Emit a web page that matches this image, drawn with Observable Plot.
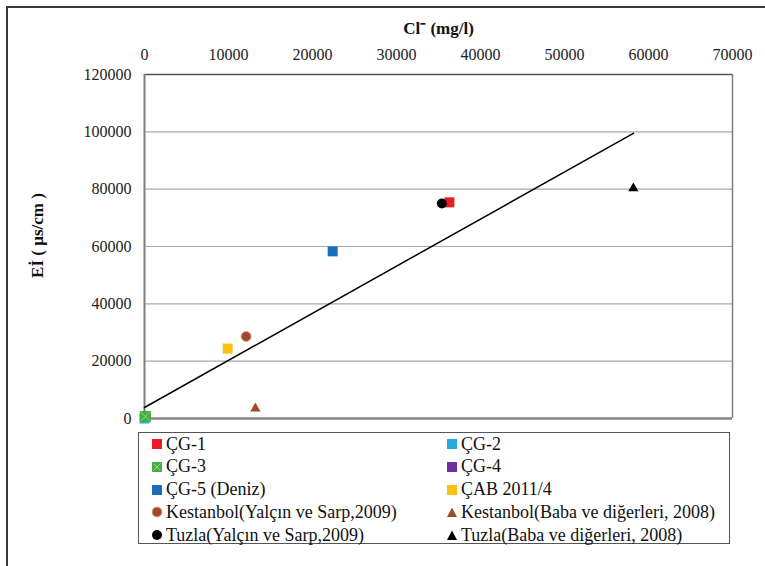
<!DOCTYPE html>
<html>
<head>
<meta charset="utf-8">
<script src="https://cdn.jsdelivr.net/npm/d3@7"></script>
<script src="https://cdn.jsdelivr.net/npm/@observablehq/plot@0.6"></script>
<style>
  html, body { margin: 0; padding: 0; background: #fff; }
  #wrap { position: relative; width: 765px; height: 566px; overflow: hidden; font-family: "Liberation Serif", "Times New Roman", serif; }
  #frame { position: absolute; left: 6px; top: 6px; width: 800px; height: 600px; border-top: 2px solid #3a3a3a; border-left: 2px solid #3a3a3a; }
  #chart { position: absolute; left: 0; top: 0; }
  #chart svg, #chart svg text { font-family: "Liberation Serif", "Times New Roman", serif !important; }
  #legend { position: absolute; left: 138px; top: 432px; width: 592px; height: 112px; border: 1px solid #555; box-sizing: border-box; background: #fff; }
  .item { position: absolute; height: 22px; display: flex; align-items: center; font-size: 18px; color: #111; white-space: nowrap; }
  .item svg { margin-right: 3px; }
</style>
</head>
<body>
<div id="wrap">
  <div id="frame"></div>
  <div id="chart"></div>
  <div id="legend"></div>
</div>
<script>
// ---- data ----
const series = ["ÇG-1", "ÇG-2", "ÇG-3", "ÇG-4", "ÇG-5 (Deniz)", "ÇAB 2011/4",
  "Kestanbol(Yalçın ve Sarp,2009)", "Kestanbol(Baba ve diğerleri, 2008)",
  "Tuzla(Yalçın ve Sarp,2009)", "Tuzla(Baba ve diğerleri, 2008)"];
const chloride = [36300, 0, 100, 100, 22400, 9900, 12100, 13200, 35400, 58200];      // Cl- (mg/l)
const conductivity = [75400, 0, 700, 700, 58300, 24400, 28600, 3500, 75000, 80300]; // EC (µs/cm)
const colors = ["#ed1c24", "#29abe2", "#3db049", "#7030a0", "#1b6fba", "#fdc010",
  "#9e4a2a", "#9e4a22", "#000000", "#000000"];
const symbols = ["square", "square", "square", "square", "square", "square",
  "circle", "triangle", "circle", "triangle"];
const trendX = [0, 58200];
const trendY = [3840, 99480];
const xTicks = [0, 10000, 20000, 30000, 40000, 50000, 60000, 70000];
const yTicks = [0, 20000, 40000, 60000, 80000, 100000, 120000];
const gridY = [20000, 40000, 60000, 80000, 100000];

const FONT = "Liberation Serif, Times New Roman, serif";
const points = series.map((s, i) => ({name: s, x: chloride[i], y: conductivity[i], color: colors[i], symbol: symbols[i]}));
// draw ÇG-4 first so ÇG-2 and ÇG-3 sit on top of it, as in the original
const order = [3, 0, 1, 2, 4, 5, 6, 7, 8, 9];
const drawPoints = order.map(i => points[i]);
const trend = trendX.map((x, i) => ({x, y: trendY[i]}));
const rFor = d => d.name === "ÇG-3" ? 6.2 : d.symbol === "square" ? 5.65 : d.symbol === "circle" ? 5 : 3.8;

const chart = Plot.plot({
  width: 765,
  height: 566,
  marginTop: 74,
  marginBottom: 148,
  marginLeft: 144,
  marginRight: 33,
  style: {fontFamily: FONT, fontSize: "16px", background: "transparent", color: "#222"},
  x: {domain: [0, 70000]},
  y: {domain: [0, 120000]},
  r: {type: "identity"},
  marks: [
    Plot.ruleY(gridY, {stroke: "#a9a9a9", strokeWidth: 1.2}),
    Plot.ruleY([120000], {stroke: "#555", strokeWidth: 1.5}),
    Plot.ruleX([70000], {stroke: "#7f7f7f", strokeWidth: 1.5}),
    Plot.ruleX([0], {stroke: "#7f7f7f", strokeWidth: 2}),
    Plot.ruleY([0], {stroke: "#868686", strokeWidth: 2.5}),
    Plot.line(trend, {x: "x", y: "y", stroke: "#000", strokeWidth: 1.5}),
    Plot.dot(drawPoints, {x: "x", y: "y", fill: d => d.color, symbol: d => d.symbol, r: rFor, sort: null,
      stroke: d => d.name.startsWith("Kestanbol(Yal") ? "#d9a99c" : "none", strokeWidth: 1}),
    Plot.dot(points.filter(d => d.name === "ÇG-3"), {x: "x", y: "y", symbol: "times", r: 4.5, stroke: "#a5d65c", strokeWidth: 1}),
    Plot.axisX({anchor: "top", ticks: xTicks, tickSize: 0, tickPadding: 15, tickFormat: d => String(d), label: null, fontSize: 16, fontFamily: FONT, fill: "#222"}),
    Plot.axisY({anchor: "left", ticks: yTicks, tickSize: 0, tickPadding: 13, tickFormat: d => String(d), label: null, fontSize: 16, fontFamily: FONT, fill: "#222"}),
    Plot.text(["Cl⁻ (mg/l)"], {frameAnchor: "top", dy: -46, lineAnchor: "middle", textAnchor: "middle", fontWeight: "bold", fontSize: 17, fontFamily: FONT, fill: "#111"}),
    Plot.text(["Eİ ( µs/cm )"], {frameAnchor: "left", dx: -107, dy: -11, rotate: -90, textAnchor: "middle", lineAnchor: "middle", fontWeight: "bold", fontSize: 17, fontFamily: FONT, fill: "#111"})
  ]
});
document.getElementById("chart").appendChild(chart);

// ---- legend ----
const legend = document.getElementById("legend");
series.forEach((s, i) => {
  const col = i % 2, row = Math.floor(i / 2);
  const item = document.createElement("div");
  item.className = "item";
  item.style.left = (col === 0 ? 13 : 308) + "px";
  item.style.top = (0 + row * 22.8) + "px";
  const sym = symbols[i];
  let shape;
  if (sym === "square") shape = `<rect x="0" y="1" width="10" height="10" fill="${colors[i]}"/>` +
    (s === "ÇG-3" ? `<path d="M1.5 2.5 L8.5 9.5 M8.5 2.5 L1.5 9.5" stroke="#a5d65c" stroke-width="1"/>` : "");
  else if (sym === "circle") shape = `<circle cx="5" cy="6" r="5" fill="${colors[i]}" ${s.startsWith("Kestanbol") ? 'stroke="#d9a99c" stroke-width="1"' : ""}/>`;
  else shape = `<path d="M5 1.5 L10 11 L0 11 Z" fill="${colors[i]}"/>`;
  item.innerHTML = `<svg width="11" height="12" viewBox="0 0 11 12">${shape}</svg><span>${s}</span>`;
  legend.appendChild(item);
});
</script>
</body>
</html>
